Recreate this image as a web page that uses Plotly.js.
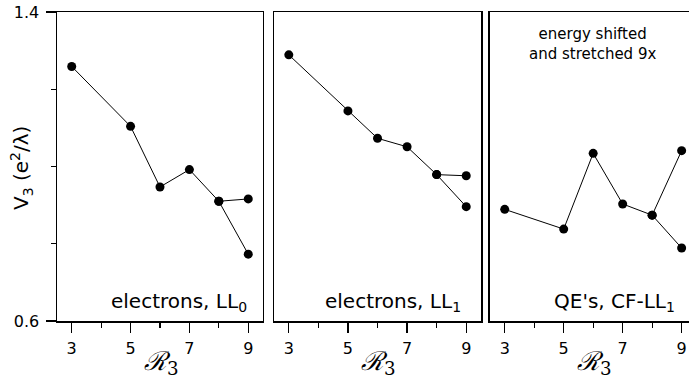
<!DOCTYPE html>
<html><head><meta charset="utf-8">
<script src="https://cdn.plot.ly/plotly-3.0.1.min.js"></script>
<style>html,body{margin:0;padding:0;background:#fff}</style>
</head><body>
<div id="chart" style="width:689px;height:383px"></div>
<script>
// Data
var rValues = [3, 5, 6, 7, 8, 9];
var branchX = [8, 9];
var ll0Main = [1.259, 1.104, 0.947, 0.992, 0.910, 0.773];
var ll0Branch = [0.910, 0.916];
var ll1Main = [1.289, 1.144, 1.073, 1.051, 0.979, 0.896];
var ll1Branch = [0.979, 0.976];
var qeMain = [0.889, 0.838, 1.034, 0.903, 0.874, 0.789];
var qeBranch = [0.874, 1.041];
var panelLabels = ['electrons, LL<sub>0</sub>', 'electrons, LL<sub>1</sub>', "QE's, CF-LL<sub>1</sub>"];
var xTickVals = [3, 5, 7, 9];
var xMinorVals = [4, 6, 8];
var yTickVals = [0.6, 1.4];
var yTickText = ['0.6', '1.4'];
var yMinorVals = [0.8, 1.0, 1.2];

var FONT = 'DejaVu Sans, Arial, sans-serif';
function tr(x, y, ax) {
  return {x: x, y: y, xaxis: 'x' + ax, yaxis: 'y' + ax, type: 'scatter', mode: 'lines+markers',
    line: {color: '#000', width: 1}, marker: {color: '#000', size: 9}, showlegend: false, hoverinfo: 'skip'};
}
var data = [
  tr(rValues, ll0Main, ''), tr(branchX, ll0Branch, ''),
  tr(rValues, ll1Main, '2'), tr(branchX, ll1Branch, '2'),
  tr(rValues, qeMain, '3'), tr(branchX, qeBranch, '3')
];
function xa(domain, range) {
  return {domain: domain, range: range, showline: true, mirror: true, linecolor: '#000', linewidth: 1.5,
    ticks: 'outside', ticklen: 10, tickwidth: 1.2, tickcolor: '#000', tickmode: 'array', tickvals: xTickVals,
    minor: {tickmode: 'array', tickvals: xMinorVals, ticks: 'outside', ticklen: 5, tickwidth: 1.2, tickcolor: '#000'},
    showgrid: false, zeroline: false, tickfont: {family: FONT, size: 16, color: '#000'}, ticklabelstandoff: 2};
}
function ya(anchor, labelled, mirror) {
  var o = {anchor: anchor, range: [0.6, 1.4], showline: true, mirror: mirror, linecolor: '#000', linewidth: 1.5,
    showgrid: false, zeroline: false};
  if (labelled) {
    o.ticks = 'outside'; o.ticklen = 10; o.tickwidth = 1.2; o.tickcolor = '#000';
    o.tickmode = 'array'; o.tickvals = yTickVals; o.ticktext = yTickText;
    o.tickfont = {family: FONT, size: 16, color: '#000'};
    o.minor = {tickmode: 'array', tickvals: yMinorVals, ticks: 'outside', ticklen: 5, tickwidth: 1.2, tickcolor: '#000'};
    o.ticklabelstandoff = 3;
  } else {
    o.showticklabels = false; o.ticks = '';
  }
  return o;
}
var layout = {
  width: 689, height: 383, margin: {l: 57, r: 0, t: 12, b: 62},
  paper_bgcolor: '#fff', plot_bgcolor: '#fff',
  xaxis: xa([0, 0.3259], [2.5, 9.5]),
  yaxis: ya('x', true, true),
  xaxis2: Object.assign(xa([0.3434, 0.6709], [2.5, 9.5]), {anchor: 'y2'}),
  yaxis2: ya('x2', false, true),
  xaxis3: Object.assign(xa([0.6851, 1], [2.5, 9.25]), {anchor: 'y3'}),
  yaxis3: ya('x3', false, false),
  annotations: [
    {xref: 'x', yref: 'paper', x: 9.02, y: 0.06, xanchor: 'right', yanchor: 'middle', showarrow: false, text: panelLabels[0], font: {family: FONT, size: 20, color: '#000'}},
    {xref: 'x2', yref: 'paper', x: 8.89, y: 0.06, xanchor: 'right', yanchor: 'middle', showarrow: false, text: panelLabels[1], font: {family: FONT, size: 20, color: '#000'}},
    {xref: 'x3', yref: 'paper', x: 8.84, y: 0.06, xanchor: 'right', yanchor: 'middle', showarrow: false, text: panelLabels[2], font: {family: FONT, size: 20, color: '#000'}},
    {xref: 'paper', yref: 'paper', x: 0.847, y: 0.897, xanchor: 'center', yanchor: 'middle', showarrow: false, borderpad: 0, align: 'center', text: 'energy shifted<br>and stretched 9x', font: {family: FONT, size: 15, color: '#000'}},
    {xref: 'paper', yref: 'paper', x: -0.057, y: 0.495, xanchor: 'center', yanchor: 'middle', textangle: -90, showarrow: false, text: 'V<sub>3</sub> (e<sup>2</sup>/λ)', font: {family: FONT, size: 20, color: '#000'}},
    {xref: 'paper', yref: 'paper', x: 0.166, y: -0.135, xanchor: 'center', yanchor: 'middle', showarrow: false, text: '<i>ℛ</i><sub>3</sub>', font: {family: 'DejaVu Serif, serif', size: 26, color: '#000'}},
    {xref: 'paper', yref: 'paper', x: 0.508, y: -0.135, xanchor: 'center', yanchor: 'middle', showarrow: false, text: '<i>ℛ</i><sub>3</sub>', font: {family: 'DejaVu Serif, serif', size: 26, color: '#000'}},
    {xref: 'paper', yref: 'paper', x: 0.850, y: -0.135, xanchor: 'center', yanchor: 'middle', showarrow: false, text: '<i>ℛ</i><sub>3</sub>', font: {family: 'DejaVu Serif, serif', size: 26, color: '#000'}}
  ]
};
Plotly.newPlot('chart', data, layout, {staticPlot: true, displayModeBar: false});
</script>
</body></html>
